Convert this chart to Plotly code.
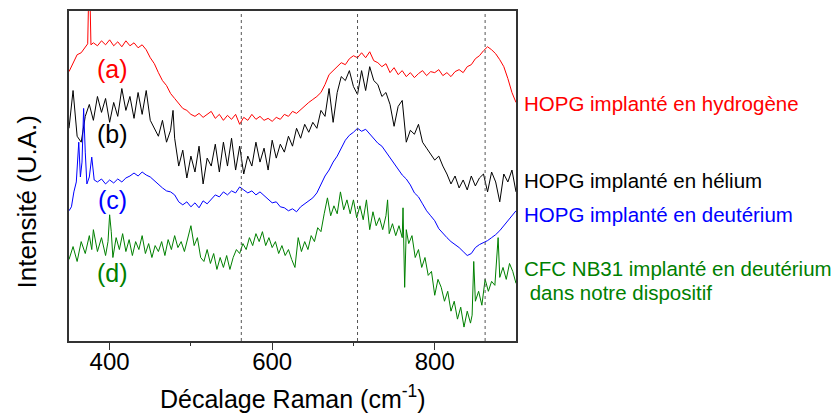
import plotly.graph_objects as go

# ---------------- data ----------------
# Raman shift (cm-1) and intensity (arbitrary units, offset spectra)
x_a = [350, 355, 360, 365, 370, 373, 375, 377, 380, 385, 390, 395, 400, 405, 410, 415, 420, 425, 430, 435,
       440, 445, 450, 455, 460, 465, 470, 475, 480, 485, 490, 495, 500, 505, 510, 515, 520, 525, 530, 535,
       540, 545, 550, 555, 560, 565, 570, 575, 580, 585, 590, 595, 600, 605, 610, 615, 620, 625, 630, 635,
       640, 645, 650, 655, 660, 665, 670, 675, 680, 685, 690, 695, 700, 705, 710, 715, 720, 725, 730, 735,
       740, 745, 750, 755, 760, 765, 770, 775, 780, 785, 790, 795, 800, 805, 810, 815, 820, 825, 830, 835,
       840, 845, 850, 855, 860, 865, 870, 875, 880, 885, 890, 895, 900]
y_a = [271, 279, 288, 290, 296, 299, 380, 298, 300, 297, 302, 298, 303, 297, 301, 296, 302, 297, 300, 295,
       298, 293, 285, 279, 270, 262, 257, 249, 244, 239, 234, 232, 228, 226, 229, 225, 228, 231, 224, 228,
       222, 227, 223, 228, 218, 225, 222, 228, 223, 226, 222, 224, 221, 225, 223, 228, 226, 231, 229, 233,
       236, 240, 243, 246, 250, 258, 268, 272, 275, 280, 278, 284, 287, 285, 290, 285, 291, 282, 280, 276,
       279, 270, 275, 268, 272, 266, 270, 265, 269, 272, 267, 271, 270, 273, 267, 270, 266, 271, 273, 270,
       276, 278, 284, 287, 292, 296, 293, 289, 283, 276, 264, 250, 240]

x_b = [350, 355, 360, 365, 370, 375, 380, 385, 390, 395, 400, 405, 410, 415, 420, 425, 430, 435, 440, 445,
       450, 455, 460, 465, 470, 475, 478, 480, 485, 490, 495, 500, 505, 510, 515, 520, 525, 530, 535, 540,
       545, 550, 555, 560, 565, 570, 575, 580, 585, 590, 595, 600, 605, 610, 615, 620, 625, 630, 635, 640,
       645, 650, 655, 660, 665, 670, 675, 680, 685, 690, 695, 700, 705, 710, 715, 720, 725, 730, 735, 740,
       745, 750, 755, 760, 765, 770, 775, 780, 785, 790, 795, 800, 805, 810, 815, 820, 825, 830, 835, 840,
       845, 850, 855, 860, 865, 870, 875, 880, 885, 890, 895, 900]
y_b = [214, 252, 206, 200, 226, 238, 222, 246, 230, 244, 220, 240, 226, 254, 232, 246, 224, 250, 228, 252,
       222, 214, 206, 222, 200, 212, 232, 204, 176, 192, 164, 186, 170, 196, 158, 184, 176, 198, 170, 200,
       176, 204, 172, 196, 168, 186, 176, 200, 180, 194, 172, 202, 184, 198, 190, 206, 196, 214, 204, 218,
       210, 220, 214, 232, 226, 254, 220, 250, 266, 262, 272, 256, 248, 272, 252, 276, 262, 258, 246, 250,
       238, 216, 236, 242, 200, 212, 208, 218, 200, 194, 188, 182, 186, 176, 168, 158, 166, 154, 162, 152,
       166, 156, 164, 168, 150, 170, 160, 140, 168, 160, 172, 150]

x_c = [350, 353, 356, 359, 362, 364, 366, 368, 370, 372, 375, 378, 381, 385, 390, 395, 400, 405, 410, 415,
       420, 425, 430, 435, 440, 445, 450, 455, 460, 465, 470, 475, 480, 485, 490, 495, 500, 505, 510, 515,
       520, 525, 530, 535, 540, 545, 550, 555, 560, 565, 570, 575, 580, 585, 590, 595, 600, 605, 610, 615,
       620, 625, 630, 635, 640, 645, 650, 655, 660, 665, 670, 675, 680, 685, 690, 695, 700, 705, 710, 715,
       720, 725, 730, 735, 740, 745, 750, 755, 760, 765, 770, 775, 780, 785, 790, 795, 800, 805, 810, 815,
       820, 825, 830, 835, 840, 845, 850, 855, 860, 865, 870, 875, 880, 885, 890, 895, 900]
y_c = [131, 135, 150, 160, 200, 165, 180, 234, 190, 158, 165, 185, 162, 160, 163, 158, 162, 159, 163, 160,
       164, 166, 169, 166, 170, 167, 165, 161, 158, 154, 151, 150, 147, 140, 137, 140, 135, 139, 134, 141,
       138, 143, 147, 145, 150, 147, 151, 149, 155, 152, 149, 151, 147, 150, 146, 142, 139, 140, 135, 134,
       131, 133, 130, 135, 138, 141, 144, 149, 158, 166, 172, 180, 186, 194, 202, 207, 210, 214, 211, 213,
       208, 204, 199, 196, 190, 185, 178, 172, 167, 163, 157, 149, 145, 138, 131, 126, 121, 113, 108, 104,
       100, 97, 94, 90, 86, 88, 94, 97, 99, 101, 104, 107, 111, 116, 121, 127, 131]

x_d = [350, 355, 360, 365, 370, 375, 378, 380, 385, 390, 395, 398, 400, 402, 404, 408, 412, 416, 420, 424,
       428, 432, 436, 440, 444, 448, 452, 456, 460, 464, 468, 472, 476, 480, 484, 488, 492, 496, 500, 504,
       508, 512, 516, 520, 524, 528, 532, 536, 540, 544, 548, 552, 556, 560, 564, 568, 572, 576, 580, 584,
       588, 592, 596, 600, 604, 608, 612, 616, 620, 624, 628, 632, 636, 640, 644, 648, 652, 656, 660, 664,
       668, 672, 676, 680, 684, 688, 692, 696, 700, 704, 708, 712, 716, 720, 724, 728, 732, 736, 740, 742,
       744, 748, 752, 756, 760, 761, 763, 765, 768, 772, 776, 780, 784, 788, 792, 796, 800, 804, 808, 812,
       816, 820, 824, 828, 832, 836, 840, 844, 846, 848, 850, 854, 858, 862, 866, 870, 874, 878, 880, 884,
       888, 892, 896, 900]
y_d = [82, 95, 80, 100, 88, 106, 92, 112, 90, 104, 86, 100, 127, 110, 84, 104, 92, 108, 90, 102,
       86, 100, 92, 106, 88, 98, 84, 96, 90, 100, 86, 102, 92, 106, 94, 100, 90, 104, 116, 96,
       104, 84, 80, 92, 78, 88, 72, 84, 74, 86, 72, 84, 92, 88, 98, 92, 104, 96, 108, 100,
       110, 96, 104, 94, 100, 88, 96, 86, 92, 82, 74, 104, 90, 100, 92, 106, 100, 114, 110, 128,
       144, 126, 136, 128, 150, 132, 142, 128, 142, 124, 136, 122, 142, 112, 130, 116, 124, 112, 126, 142,
       108, 118, 106, 116, 104, 134, 54, 112, 98, 106, 84, 92, 74, 84, 66, 70, 46, 62, 54, 40,
       50, 30, 40, 22, 34, 14, 30, 18, 26, 80, 40, 50, 36, 62, 50, 60, 56, 104, 64, 74,
       62, 78, 70, 58]

series_names = ["HOPG implanté en hydrogène", "HOPG implanté en hélium",
                "HOPG implanté en deutérium", "CFC NB31 implanté en deutérium"]
series_colors = ["#FF0000", "#000000", "#0000FF", "#008000"]
letters = ["(a)", "(b)", "(c)", "(d)"]
letter_y = [274, 208, 142, 68]
label_y = [239, 161, 127, 73]
extra_label = " dans notre dispositif"
extra_label_y = 49
reference_lines = [562, 705, 862]
x_ticks = [400, 600, 800]
x_minor_ticks = [500, 700]
x_range = [350, 900]
y_range = [0, 332]

FONT = "Arial, 'Liberation Sans', sans-serif"

fig = go.Figure()
for xs, ys, name, col in zip([x_a, x_b, x_c, x_d], [y_a, y_b, y_c, y_d], series_names, series_colors):
    fig.add_trace(go.Scatter(x=xs, y=ys, mode="lines", name=name,
                             line=dict(color=col, width=1), showlegend=False))

for xv in reference_lines:
    fig.add_shape(type="line", xref="x", yref="paper", x0=xv, x1=xv, y0=0, y1=1,
                  line=dict(color="#555555", width=1, dash="dot"))

for txt, yv, col in zip(letters, letter_y, series_colors):
    fig.add_annotation(x=404, y=yv, xref="x", yref="y", text=txt, showarrow=False,
                       font=dict(family=FONT, size=25, color=col), xanchor="center", yanchor="middle")

for txt, yv, col in zip(series_names, label_y, series_colors):
    fig.add_annotation(x=1, xshift=6, y=yv, xref="paper", yref="y", text=txt, showarrow=False,
                       font=dict(family=FONT, size=20.5, color=col), xanchor="left", yanchor="middle")
fig.add_annotation(x=1, xshift=6, y=extra_label_y, xref="paper", yref="y", text=extra_label,
                   showarrow=False, font=dict(family=FONT, size=20.5, color=series_colors[3]),
                   xanchor="left", yanchor="middle")

fig.add_annotation(x=0.5, y=0, xref="paper", yref="paper", yshift=-56,
                   text="Décalage Raman (cm<sup>-1</sup>)", showarrow=False,
                   font=dict(family=FONT, size=25, color="black"), xanchor="center", yanchor="middle")
fig.add_annotation(x=0, xshift=-42, y=0.42, xref="paper", yref="paper", textangle=-90,
                   text="Intensité (U.A.)", showarrow=False,
                   font=dict(family=FONT, size=26, color="black"), xanchor="center", yanchor="middle")

fig.update_layout(
    width=835, height=414,
    margin=dict(l=69, r=319, t=9, b=73),
    paper_bgcolor="white", plot_bgcolor="white",
    font=dict(family=FONT, color="black"),
    xaxis=dict(range=x_range, tickmode="array", tickvals=x_ticks, ticks="outside", ticklen=7,
               tickwidth=1, tickcolor="#333333", showline=True, linecolor="#333333", linewidth=1.5,
               mirror=True, showgrid=False, zeroline=False, tickfont=dict(size=24, family=FONT),
               ticklabelstandoff=-9,
               minor=dict(tickmode="array", tickvals=x_minor_ticks, ticks="outside", ticklen=3,
                          tickcolor="#333333", showgrid=False)),
    yaxis=dict(range=y_range, showticklabels=False, ticks="", showline=True, linecolor="#333333",
               linewidth=1.5, mirror=True, showgrid=False, zeroline=False),
)

fig.write_html("out.html", config={"displayModeBar": False},
               post_script="document.body.style.margin='0';")
